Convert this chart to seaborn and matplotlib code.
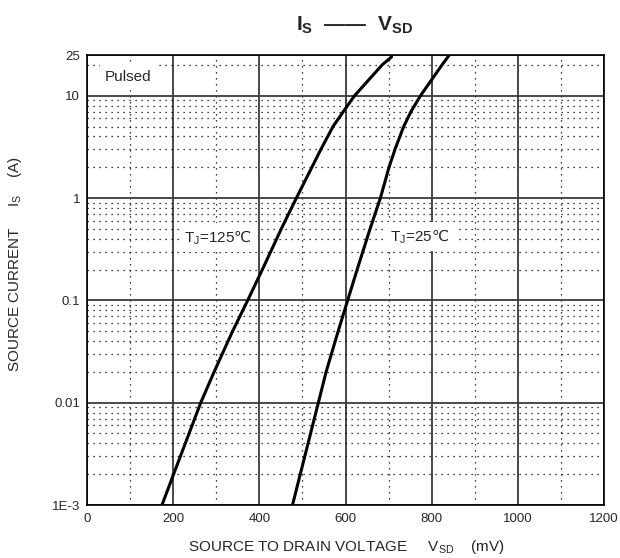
import numpy as np
import pandas as pd
import matplotlib
matplotlib.use("Agg")
import matplotlib.pyplot as plt
import seaborn as sns

# I_S vs V_SD
V_125 = [174, 201, 264, 295, 338, 373, 407, 451, 486, 522, 543, 571, 595, 621, 685, 707]
I_125 = [1e-3, 2e-3, 0.01, 0.02, 0.05, 0.1, 0.2, 0.5, 1, 2, 3, 5, 7, 10, 20, 24]
V_25 = [477, 495, 537, 555, 583, 605, 627, 657, 681, 701, 715, 735, 752, 774, 824, 840]
I_25 = [1e-3, 2e-3, 0.01, 0.02, 0.05, 0.1, 0.2, 0.5, 1, 2, 3, 5, 7, 10, 20, 24.7]

Y_TICKS = [1e-3, 0.01, 0.1, 1, 10, 25]
Y_TICK_LABELS = ["1E-3", "0.01", "0.1", "1", "10", "25"]
X_TICKS = [0, 200, 400, 600, 800, 1000, 1200]

sns.set_style("white")
plt.rcParams["font.family"] = ["Liberation Sans", "DejaVu Sans"]
plt.rcParams["mathtext.fontset"] = "custom"
plt.rcParams["mathtext.rm"] = "Liberation Sans"
plt.rcParams["mathtext.it"] = "Liberation Sans:italic"
plt.rcParams["mathtext.bf"] = "Liberation Sans:bold"
plt.rcParams["mathtext.sf"] = "Noto Sans CJK SC"  # only used for the degree-Celsius sign

df = pd.concat([
    pd.DataFrame({"vsd": V_125, "is": I_125, "tj": "125"}),
    pd.DataFrame({"vsd": V_25, "is": I_25, "tj": "25"}),
])

fig = plt.figure(figsize=(6.2, 5.58), dpi=100)
ax = fig.add_axes([87 / 620, 1 - 505 / 558, (604 - 87) / 620, (505 - 55) / 558])

sns.lineplot(data=df, x="vsd", y="is", hue="tj", palette=["black", "black"],
             sort=False, estimator=None, legend=False, linewidth=2.2, ax=ax, zorder=5)

ax.set_yscale("log")
ax.set_xlim(0, 1200)
ax.set_ylim(1e-3, 25)
ax.set_yticks(Y_TICKS)
ax.set_yticklabels(Y_TICK_LABELS)
minor_y = [k * 10.0 ** e for e in range(-3, 1) for k in range(2, 10)] + [20]
ax.set_yticks(minor_y, minor=True)
ax.set_yticklabels([], minor=True)
ax.set_xticks(X_TICKS)
ax.set_xticks(np.arange(100, 1200, 200), minor=True)

ax.grid(which="major", color="#3a3a3a", linewidth=1.3, linestyle="-")
ax.grid(which="minor", color="black", linewidth=0.9, linestyle=(0, (1, 3.8)))
ax.set_axisbelow(True)
ax.tick_params(which="both", length=0)
ax.tick_params(axis="y", labelsize=9.5, pad=5)
ax.tick_params(axis="x", labelsize=9.5, pad=6)
for s in ax.spines.values():
    s.set_color("black")
    s.set_linewidth(1.2)
ax.set_xlabel("")
ax.set_ylabel("")

box = dict(facecolor="white", edgecolor="none", pad=4)
ax.text(42, 15.3, "Pulsed", fontsize=11, va="center", ha="left", bbox=box, zorder=4)
ax.text(226, 0.41, "T$_\\mathrm{J}$=125$\\mathsf{\u2103}$", fontsize=11,
        va="center", ha="left", bbox=box, zorder=4)
ax.text(704, 0.42, "T$_\\mathrm{J}$=25$\\mathsf{\u2103}$", fontsize=11,
        va="center", ha="left", bbox=box, zorder=4)

fig.text(355 / 620, 1 - 25 / 558,
         "$\\mathbf{I}_\\mathbf{S}$  \u2014\u2014  $\\mathbf{V}_\\mathbf{SD}$",
         fontsize=15, fontweight="bold", ha="center", va="center")
fig.text(346 / 620, 0.02, "SOURCE TO DRAIN VOLTAGE     V$_\\mathrm{SD}$    (mV)",
         fontsize=11, ha="center", va="center")
fig.text(15 / 620, 1 - 264 / 558, "SOURCE CURRENT     I$_\\mathrm{S}$    (A)",
         fontsize=11, ha="center", va="center", rotation=90)

fig.savefig("out.png", dpi=100)
